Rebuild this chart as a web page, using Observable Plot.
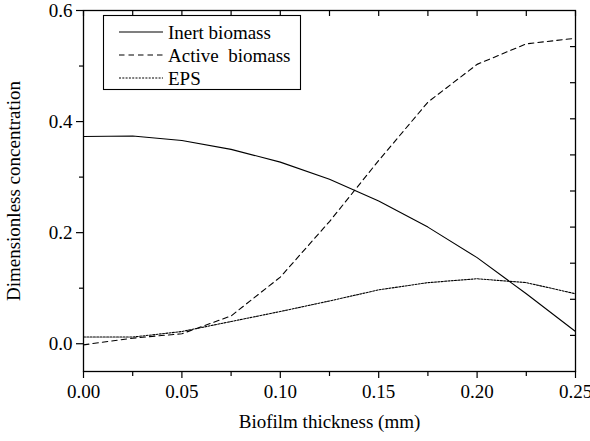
<!DOCTYPE html>
<html>
<head>
<meta charset="utf-8">
<script src="https://cdn.jsdelivr.net/npm/d3@7"></script>
<script src="https://cdn.jsdelivr.net/npm/@observablehq/plot@0.6"></script>
<style>
  html, body { margin: 0; padding: 0; background: #fff; }
  #chart { position: relative; width: 590px; height: 441px; }
  #chart svg, #chart svg text { font-family: "Liberation Serif", "Times New Roman", serif !important; }
</style>
</head>
<body>
<div id="chart"></div>
<script>
const thickness = [0, 0.025, 0.05, 0.075, 0.1, 0.125, 0.15, 0.175, 0.2, 0.225, 0.25];
const inert  = [0.373, 0.374, 0.366, 0.350, 0.327, 0.296, 0.257, 0.210, 0.155, 0.090, 0.022];
const active = [-0.002, 0.010, 0.018, 0.050, 0.120, 0.220, 0.330, 0.435, 0.503, 0.540, 0.550];
const eps    = [0.012, 0.012, 0.022, 0.040, 0.058, 0.077, 0.097, 0.110, 0.117, 0.110, 0.090];
const seriesNames = ["Inert biomass", "Active  biomass", "EPS"];
const xMajor = [0, 0.05, 0.10, 0.15, 0.20, 0.25];
const xMinor = [0.025, 0.075, 0.125, 0.175, 0.225];
const yMajor = [0.0, 0.2, 0.4, 0.6];
const yMinor = [0.1, 0.3, 0.5];

const yDomain = [-0.05, 0.6];
// right-hand mirror axis: 10 equal divisions of the frame, unlabeled
const rightTicks = d3.range(1, 10).map(k => yDomain[0] + k * (yDomain[1] - yDomain[0]) / 10);

const styles = [
  {dash: null, width: 1.1},
  {dash: "5.5,4", width: 1.1},
  {dash: "2,1.3", width: 1.1}
];
const seriesValues = [inert, active, eps];
const rows = [];
seriesValues.forEach((vals, s) => vals.forEach((v, i) => rows.push({x: thickness[i], y: v, s: seriesNames[s]})));

const font = "Liberation Serif";
const fs = 19;

const plot = Plot.plot({
  width: 590,
  height: 441,
  marginLeft: 83,
  marginRight: 15,
  marginTop: 10,
  marginBottom: 70,
  style: {fontFamily: font, fontSize: fs + "px", color: "#000", background: "#fff"},
  x: {domain: [0, 0.25]},
  y: {domain: yDomain},
  marks: [
    Plot.frame({stroke: "#000", strokeWidth: 1.3}),
    Plot.axisX({anchor: "bottom", ticks: xMajor, tickSize: 7, tickPadding: 6, tickFormat: d3.format(".2f"), label: null, fontSize: fs, fontFamily: font, strokeWidth: 1.2}),
    Plot.axisX({anchor: "bottom", ticks: xMinor, tickSize: 5, tickFormat: () => "", label: null, strokeWidth: 1.2}),
    Plot.axisX({anchor: "top", ticks: [...xMajor, ...xMinor], tickSize: -5, tickFormat: () => "", label: null, strokeWidth: 1.2}),
    Plot.axisY({anchor: "left", ticks: yMajor, tickSize: 7, tickPadding: 4, tickFormat: d3.format(".1f"), label: null, fontSize: fs, fontFamily: font, strokeWidth: 1.2}),
    Plot.axisY({anchor: "left", ticks: yMinor, tickSize: 4, tickFormat: () => "", label: null, strokeWidth: 1.2}),
    Plot.axisY({anchor: "right", ticks: rightTicks, tickSize: -6, tickFormat: () => "", label: null, strokeWidth: 1.2}),
    ...seriesNames.map((name, k) => Plot.line(rows.filter(r => r.s === name), {
      x: "x", y: "y", stroke: "#000", strokeWidth: styles[k].width,
      strokeDasharray: styles[k].dash
    })),
    Plot.text(["Biofilm thickness (mm)"], {frameAnchor: "bottom", textAnchor: "middle", dy: 56, fontSize: fs, fontFamily: font, fill: "#000"}),
    Plot.text(["Dimensionless concentration"], {frameAnchor: "left", textAnchor: "middle", dx: -70, rotate: -90, fontSize: fs, fontFamily: font, fill: "#000"})
  ]
});
document.getElementById("chart").appendChild(plot);

// legend drawn inside the SVG
const svg = d3.select(plot);
const lg = svg.append("g").attr("font-family", font).attr("font-size", fs).attr("text-anchor", "start");
lg.append("rect").attr("x", 103.5).attr("y", 15.5).attr("width", 197).attr("height", 74)
  .attr("fill", "#fff").attr("stroke", "#000").attr("stroke-width", 1.1);
seriesNames.forEach((name, k) => {
  const cy = 32 + k * 23;
  lg.append("line").attr("x1", 119).attr("x2", 163).attr("y1", cy).attr("y2", cy)
    .attr("stroke", "#000").attr("stroke-width", 1.1)
    .attr("stroke-dasharray", styles[k].dash);
  lg.append("text").attr("x", 168).attr("y", cy).attr("dy", "0.35em").attr("fill", "#000")
    .attr("text-anchor", "start").style("white-space", "pre").text(name);
});
</script>
</body>
</html>
